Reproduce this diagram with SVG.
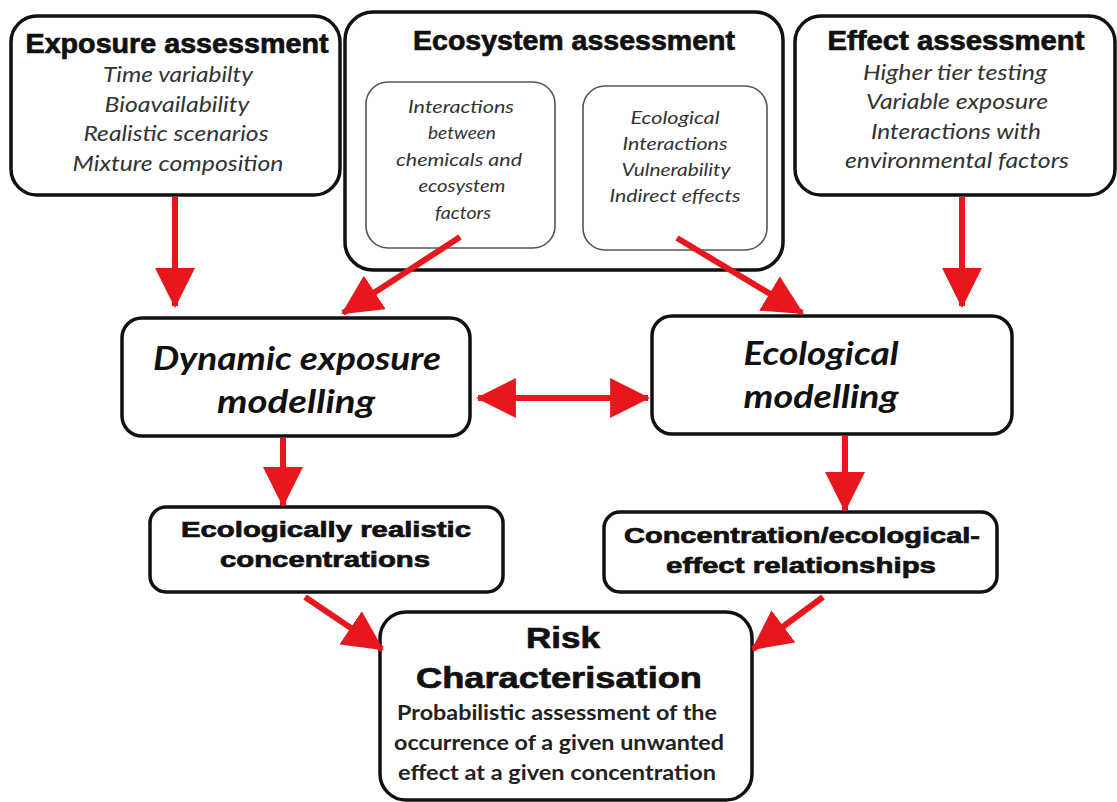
<svg xmlns="http://www.w3.org/2000/svg" width="1117" height="802" viewBox="0 0 1117 802">
<defs>
<style>
.box{fill:#fff;stroke:#111;stroke-width:3.5}
.inner{fill:#fff;stroke:#555;stroke-width:1.6}
.title{font-family:"Liberation Sans",Arial,sans-serif;font-weight:bold;fill:#111;stroke:#111;stroke-width:0.7;text-anchor:middle}
.it{font-family:Lato,"Open Sans",sans-serif;font-style:italic;fill:#333;text-anchor:middle}
.big{font-family:Lato,"Open Sans",sans-serif;font-style:italic;font-weight:bold;fill:#111;text-anchor:middle}
.body{font-family:Lato,"Open Sans",sans-serif;font-weight:bold;fill:#222;text-anchor:middle}
.arr{stroke:#e8161d;stroke-width:6;fill:none}
</style>
<marker id="head" markerUnits="userSpaceOnUse" markerWidth="40" markerHeight="40" viewBox="0 0 38 38" refX="36" refY="19" orient="auto-start-reverse">
<path d="M0,0 L38,19 L0,38 Z" fill="#e8161d"/>
</marker>
</defs>
<rect width="1117" height="802" fill="#fff"/>

<g id="exposure-assessment">
<rect class="box" x="11" y="16" width="329" height="179" rx="26"/>
<text class="title" x="177" y="53" font-size="27" textLength="303" lengthAdjust="spacingAndGlyphs">Exposure assessment</text>
<text class="it" x="178" y="82" font-size="22" textLength="150" lengthAdjust="spacingAndGlyphs">Time variabilty</text>
<text class="it" x="177" y="112" font-size="22" textLength="145" lengthAdjust="spacingAndGlyphs">Bioavailability</text>
<text class="it" x="176" y="141" font-size="22" textLength="185" lengthAdjust="spacingAndGlyphs">Realistic scenarios</text>
<text class="it" x="178" y="171" font-size="22" textLength="211" lengthAdjust="spacingAndGlyphs">Mixture composition</text>
</g>

<g id="ecosystem-assessment">
<rect class="box" x="345" y="12" width="438" height="258" rx="28"/>
<text class="title" x="574" y="50" font-size="27" textLength="322" lengthAdjust="spacingAndGlyphs">Ecosystem assessment</text>
</g>

<g id="interactions-chemicals">
<rect class="inner" x="366" y="82" width="189" height="166" rx="22"/>
<text class="it" x="461" y="113" font-size="18" textLength="106" lengthAdjust="spacingAndGlyphs">Interactions</text>
<text class="it" x="462" y="139" font-size="18" textLength="68" lengthAdjust="spacingAndGlyphs">between</text>
<text class="it" x="459" y="166" font-size="18" textLength="126" lengthAdjust="spacingAndGlyphs">chemicals and</text>
<text class="it" x="462" y="192" font-size="18" textLength="87" lengthAdjust="spacingAndGlyphs">ecosystem</text>
<text class="it" x="463" y="219" font-size="18" textLength="56" lengthAdjust="spacingAndGlyphs">factors</text>
</g>

<g id="ecological-interactions">
<rect class="inner" x="583" y="86" width="184" height="164" rx="22"/>
<text class="it" x="675" y="124" font-size="18" textLength="89" lengthAdjust="spacingAndGlyphs">Ecological</text>
<text class="it" x="675" y="150" font-size="18" textLength="105" lengthAdjust="spacingAndGlyphs">Interactions</text>
<text class="it" x="676" y="176" font-size="18" textLength="109" lengthAdjust="spacingAndGlyphs">Vulnerability</text>
<text class="it" x="675" y="202" font-size="18" textLength="131" lengthAdjust="spacingAndGlyphs">Indirect effects</text>
</g>

<g id="effect-assessment">
<rect class="box" x="795" y="16" width="320" height="179" rx="26"/>
<text class="title" x="956" y="50" font-size="27" textLength="257" lengthAdjust="spacingAndGlyphs">Effect assessment</text>
<text class="it" x="955" y="80" font-size="22" textLength="184" lengthAdjust="spacingAndGlyphs">Higher tier testing</text>
<text class="it" x="957" y="109" font-size="22" textLength="182" lengthAdjust="spacingAndGlyphs">Variable exposure</text>
<text class="it" x="956" y="139" font-size="22" textLength="170" lengthAdjust="spacingAndGlyphs">Interactions with</text>
<text class="it" x="957" y="168" font-size="22" textLength="224" lengthAdjust="spacingAndGlyphs">environmental factors</text>
</g>

<g id="dynamic-exposure-modelling">
<rect class="box" x="122" y="318" width="348" height="118" rx="20"/>
<text class="big" x="297" y="370" font-size="32" textLength="288" lengthAdjust="spacingAndGlyphs">Dynamic exposure</text>
<text class="big" x="296" y="413" font-size="32" textLength="158" lengthAdjust="spacingAndGlyphs">modelling</text>
</g>

<g id="ecological-modelling">
<rect class="box" x="652" y="316" width="360" height="118" rx="20"/>
<text class="big" x="821" y="365" font-size="32" textLength="155" lengthAdjust="spacingAndGlyphs">Ecological</text>
<text class="big" x="821" y="408" font-size="32" textLength="155" lengthAdjust="spacingAndGlyphs">modelling</text>
</g>

<g id="ecologically-realistic-concentrations">
<rect class="box" x="150" y="507" width="353" height="85" rx="16"/>
<text class="title" x="326" y="537" font-size="22" textLength="290" lengthAdjust="spacingAndGlyphs">Ecologically realistic</text>
<text class="title" x="325" y="567" font-size="22" textLength="210" lengthAdjust="spacingAndGlyphs">concentrations</text>
</g>

<g id="concentration-effect-relationships">
<rect class="box" x="604" y="512" width="393" height="80" rx="16"/>
<text class="title" x="802" y="543" font-size="22" textLength="356" lengthAdjust="spacingAndGlyphs">Concentration/ecological-</text>
<text class="title" x="801" y="573" font-size="22" textLength="270" lengthAdjust="spacingAndGlyphs">effect relationships</text>
</g>

<g id="risk-characterisation">
<rect class="box" x="380" y="612" width="372" height="188" rx="26"/>
<text class="title" x="563" y="648" font-size="30" textLength="74" lengthAdjust="spacingAndGlyphs">Risk</text>
<text class="title" x="559" y="688" font-size="30" textLength="286" lengthAdjust="spacingAndGlyphs">Characterisation</text>
<text class="body" x="557" y="720" font-size="21" textLength="320" lengthAdjust="spacingAndGlyphs">Probabilistic assessment of the</text>
<text class="body" x="559" y="750" font-size="21" textLength="330" lengthAdjust="spacingAndGlyphs">occurrence of a given unwanted</text>
<text class="body" x="557" y="780" font-size="21" textLength="318" lengthAdjust="spacingAndGlyphs">effect at a given concentration</text>
</g>

<g id="connectors">
<line class="arr" x1="175" y1="197" x2="175" y2="306" marker-end="url(#head)"/>
<line class="arr" x1="460" y1="237" x2="343" y2="313" marker-end="url(#head)"/>
<line class="arr" x1="677" y1="238" x2="802" y2="313" marker-end="url(#head)"/>
<line class="arr" x1="962" y1="197" x2="962" y2="306" marker-end="url(#head)"/>
<line class="arr" x1="478" y1="398" x2="648" y2="398" marker-start="url(#head)" marker-end="url(#head)"/>
<line class="arr" x1="283" y1="438" x2="283" y2="505" marker-end="url(#head)"/>
<line class="arr" x1="845" y1="436" x2="845" y2="510" marker-end="url(#head)"/>
<line class="arr" x1="305" y1="597" x2="382" y2="649" marker-end="url(#head)"/>
<line class="arr" x1="823" y1="597" x2="753" y2="649" marker-end="url(#head)"/>
</g>
</svg>
